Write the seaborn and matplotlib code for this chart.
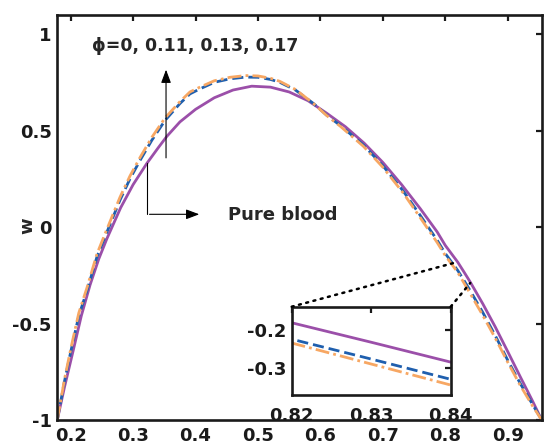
import numpy as np
import pandas as pd
import seaborn as sns
import matplotlib.pyplot as plt
from matplotlib.patches import ConnectionPatch


# ========================================
# 0. Data
# ========================================
# pure blood (phi = 0)
x_pure = [0.1785, 0.190, 0.204, 0.217, 0.231, 0.245, 0.258, 0.280, 0.300, 0.322,
          0.340, 0.354, 0.375, 0.400, 0.430, 0.460, 0.490, 0.520, 0.550, 0.580,
          0.610, 0.640, 0.670, 0.700, 0.730, 0.760, 0.787, 0.800, 0.820, 0.830,
          0.840, 0.860, 0.880, 0.900, 0.920, 0.940, 0.9545]
w_pure = [-1.000, -0.830, -0.640, -0.460, -0.300, -0.165, -0.060, 0.100, 0.220, 0.330,
          0.410, 0.470, 0.545, 0.610, 0.670, 0.710, 0.730, 0.725, 0.700, 0.655,
          0.590, 0.520, 0.435, 0.335, 0.220, 0.095, -0.025, -0.095, -0.182, -0.233,
          -0.285, -0.397, -0.517, -0.645, -0.775, -0.903, -1.000]

# nanofluid curves
x_nano = [0.1785, 0.190, 0.2005, 0.213, 0.226, 0.242, 0.255, 0.279, 0.295, 0.311,
          0.330, 0.351, 0.375, 0.391, 0.407, 0.430, 0.455, 0.480, 0.500, 0.520,
          0.535, 0.560, 0.589, 0.610, 0.632, 0.669, 0.700, 0.733, 0.760, 0.787,
          0.800, 0.820, 0.830, 0.840, 0.860, 0.880, 0.900, 0.920, 0.940, 0.9545]
w_dash = [-1.000, -0.800, -0.640, -0.460, -0.330, -0.155, -0.050, 0.140, 0.250, 0.345,
          0.450, 0.552, 0.640, 0.690, 0.716, 0.750, 0.768, 0.777, 0.776, 0.765,
          0.750, 0.710, 0.640, 0.580, 0.526, 0.425, 0.318, 0.185, 0.060, -0.068,
          -0.137, -0.225, -0.277, -0.330, -0.442, -0.562, -0.690, -0.810, -0.920, -1.000]
w_dashdot = [-1.000, -0.790, -0.625, -0.445, -0.315, -0.140, -0.035, 0.155, 0.265, 0.360,
             0.465, 0.565, 0.650, 0.700, 0.725, 0.758, 0.776, 0.785, 0.783, 0.771,
             0.755, 0.713, 0.640, 0.578, 0.522, 0.418, 0.310, 0.175, 0.048, -0.080,
             -0.148, -0.235, -0.290, -0.345, -0.457, -0.575, -0.700, -0.820, -0.928, -1.000]

xticks = [0.2, 0.3, 0.4, 0.5, 0.6, 0.7, 0.8, 0.9]
yticks = [-1, -0.5, 0, 0.5, 1]
ytick_labels = ['-1', '-0.5', '0', '0.5', '1']
inset_xticks = [0.82, 0.83, 0.84]
inset_yticks = [-0.3, -0.2]
inset_ytick_labels = ['-0.3', '-0.2']

purple = '#9b4fa9'
blue = '#1f5fae'
orange = '#f7a763'


# ========================================
# 1. Figure setup
# ========================================
sns.set_style('white')
plt.rcParams['font.family'] = ['DejaVu Sans']
plt.rcParams['font.weight'] = 'bold'

fig = plt.figure(figsize=(5.44, 4.48), dpi=100)
ax = fig.add_axes([0.1053, 0.0625, 0.8905, 0.9045])


def draw_curves(a):
    sns.lineplot(x=x_pure, y=w_pure, ax=a, color=purple, linewidth=2.0, sort=False)
    sns.lineplot(x=x_nano, y=w_dash, ax=a, color=blue, linewidth=2.0,
                 linestyle=(0, (4, 1.8)), sort=False)
    sns.lineplot(x=x_nano, y=w_dashdot, ax=a, color=orange, linewidth=2.0,
                 linestyle=(0, (5, 1.5, 1, 1.5)), sort=False)


def style_axes(a, fs, xpad, ypad):
    for s in a.spines.values():
        s.set_linewidth(1.9)
        s.set_color('#1a1a1a')
        s.set_visible(True)
    a.tick_params(direction='in', length=4, width=1.6, top=True, right=True,
                  labelsize=fs, colors='#1a1a1a')
    a.tick_params(axis='x', pad=xpad)
    a.tick_params(axis='y', pad=ypad)
    for lab in a.get_xticklabels() + a.get_yticklabels():
        lab.set_fontweight('bold')


# ========================================
# 2. Main axes
# ========================================
draw_curves(ax)
ax.set_xlim(0.1785, 0.9545)
ax.set_ylim(-1, 1.1)
ax.set_xticks(xticks)
ax.set_xticklabels([f'{t:.1f}' for t in xticks])
ax.set_yticks(yticks)
ax.set_yticklabels(ytick_labels)
ax.set_xlabel('')
ax.set_ylabel('w', fontsize=13, fontweight='bold')
ax.yaxis.set_label_coords(-0.044, 0.48)
style_axes(ax, 13, 5, 4)

ax.text(0.234, 0.94, '\u03d5=0, 0.11, 0.13, 0.17', fontsize=12.5,
        fontweight='bold', ha='left', va='center')
ax.annotate('', xy=(0.3527, 0.83), xytext=(0.3527, 0.344),
            arrowprops=dict(arrowstyle='-|>,head_length=0.8,head_width=0.3',
                            color='black', lw=0.8))
ax.plot([0.3218, 0.3218], [0.33, 0.066], color='black', lw=0.8)
ax.annotate('', xy=(0.4104, 0.066), xytext=(0.3218, 0.066),
            arrowprops=dict(arrowstyle='-|>,head_length=0.8,head_width=0.3',
                            color='black', lw=0.8))
ax.text(0.452, 0.062, 'Pure blood', fontsize=13, fontweight='bold',
        ha='left', va='center')

# ========================================
# 3. Inset
# ========================================
axins = fig.add_axes([0.5362, 0.1192, 0.2923, 0.1962])
draw_curves(axins)
axins.set_xlim(0.82, 0.84)
axins.set_ylim(-0.37, -0.14)
axins.set_xticks(inset_xticks)
axins.set_xticklabels([f'{t:.2f}' for t in inset_xticks])
axins.set_yticks(inset_yticks)
axins.set_yticklabels(inset_ytick_labels)
axins.set_xlabel('')
axins.set_ylabel('')
axins.set_facecolor('white')
style_axes(axins, 13, 9, 4)

for corner, target in [((0, 1), (0.815, -0.185)), ((1, 1), (0.84, -0.29))]:
    con = ConnectionPatch(xyA=corner, coordsA=axins.transAxes,
                          xyB=target, coordsB=ax.transData,
                          linestyle=(0, (0.8, 2.2)), linewidth=1.8,
                          color='black', capstyle='round')
    fig.add_artist(con)

fig.savefig('out.png', dpi=100)
